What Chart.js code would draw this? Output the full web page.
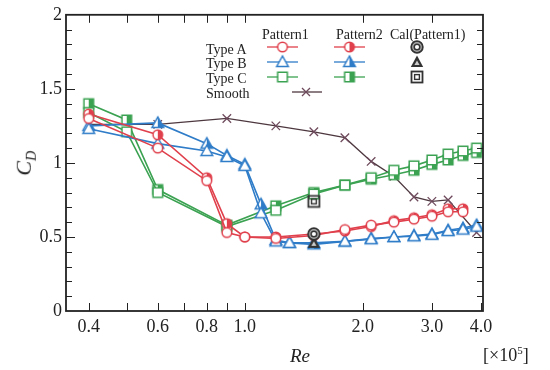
<!DOCTYPE html>
<html>
<head>
<meta charset="utf-8">
<script src="https://cdn.jsdelivr.net/npm/chart.js@4/dist/chart.umd.min.js"></script>
<style>
  body { margin: 0; background: #fff; }
  #wrap { position: relative; width: 550px; height: 370px; font-family: "Liberation Serif", "DejaVu Serif", serif; color: #222; }
  #c { position: absolute; left: 0; top: 0; }
  .t { position: absolute; white-space: nowrap; line-height: 1; font-size: 14px; }
</style>
</head>
<body>
<div id="wrap">
  <canvas id="c" width="550" height="370"></canvas>
  <div class="t" style="left:262px;top:28px">Pattern1</div>
  <div class="t" style="left:336px;top:28px">Pattern2</div>
  <div class="t" style="left:390px;top:28px">Cal(Pattern1)</div>
  <div class="t" style="left:206px;top:43px">Type A</div>
  <div class="t" style="left:206px;top:57px">Type B</div>
  <div class="t" style="left:206px;top:72px">Type C</div>
  <div class="t" style="left:206px;top:87px">Smooth</div>
  <div class="t" style="left:8px;top:150px;width:36px;font-size:22px;font-style:italic;transform:rotate(-90deg);text-align:center">C<sub style="font-size:14px">D</sub></div>
  <div class="t" style="left:290px;top:346px;font-size:19px;font-style:italic">Re</div>
  <div class="t" style="left:483px;top:345px;font-size:18px">[×10<sup style="font-size:11px">5</sup>]</div>
</div>
<script>
// ── data (Re ×10^5, C_D) ─────────────────────────────
const reA  = [0.4, 0.6, 0.8, 0.9, 1.0, 1.2, 1.5, 1.8, 2.1, 2.4, 2.7, 3.0, 3.3, 3.6];
const cdA1 = [1.30, 1.10, 0.88, 0.53, 0.50, 0.49, 0.51, 0.55, 0.58, 0.60, 0.62, 0.64, 0.67, 0.67];
const cdA2 = [1.33, 1.19, 0.90, 0.59, 0.50, 0.50, 0.52, 0.54, 0.57, 0.61, 0.63, 0.65, 0.69, 0.69];

const reB  = [0.4, 0.6, 0.8, 0.9, 1.0, 1.1, 1.2, 1.3, 1.5, 1.8, 2.1, 2.4, 2.7, 3.0, 3.3, 3.6, 3.9];
const cdB1 = [1.23, 1.13, 1.08, 1.04, 0.98, 0.66, 0.47, 0.46, 0.46, 0.47, 0.485, 0.50, 0.505, 0.515, 0.54, 0.55, 0.57];
const cdB2 = [1.25, 1.27, 1.13, 1.05, 0.99, 0.72, 0.48, 0.46, 0.45, 0.47, 0.49, 0.50, 0.51, 0.52, 0.545, 0.56, 0.58];

const reC  = [0.4, 0.5, 0.6, 0.9, 1.2, 1.5, 1.8, 2.1, 2.4, 2.7, 3.0, 3.3, 3.6, 3.9];
const cdC1 = [1.34, 1.21, 0.80, 0.57, 0.68, 0.79, 0.85, 0.90, 0.95, 0.98, 1.02, 1.06, 1.08, 1.10];
const cdC2 = [1.40, 1.29, 0.82, 0.58, 0.71, 0.80, 0.85, 0.89, 0.92, 0.95, 0.99, 1.02, 1.05, 1.07];

const reS  = [0.4, 0.6, 0.9, 1.2, 1.5, 1.8, 2.1, 2.4, 2.7, 3.0, 3.3, 3.9];
const cdS  = [1.26, 1.26, 1.30, 1.25, 1.21, 1.17, 1.01, 0.91, 0.77, 0.74, 0.75, 0.53];

const reCal  = [1.5];
const cdCalA = [0.52];
const cdCalB = [0.46];
const cdCalC = [0.74];

const xTicks  = [0.4, 0.5, 0.6, 0.7, 0.8, 0.9, 1.0, 2.0, 3.0, 4.0];
const xLabels = { 0.4: '0.4', 0.6: '0.6', 0.8: '0.8', 1: '1.0', 2: '2.0', 3: '3.0', 4: '4.0' };
const yTicks  = [0, 0.5, 1, 1.5, 2];
const yLabels = ['0', '0.5', '1', '1.5', '2'];

const RED = '#e0404c', BLUE = '#2f7cc8', GREEN = '#3ba252', SMOOTH = '#4e3840', CAL = '#333';

// ── marker images ────────────────────────────────────
function marker(shape, color, fill) {
    const S = 16, c = document.createElement('canvas');
    c.width = S; c.height = S;
    const g = c.getContext('2d');
    const path = () => {
        g.beginPath();
        if (shape === 'circle') g.arc(8, 8, 4.8, 0, Math.PI * 2);
        else if (shape === 'tri') { g.moveTo(8, 2); g.lineTo(2.2, 12.4); g.lineTo(13.8, 12.4); g.closePath(); }
        else g.rect(3.2, 3.2, 9.6, 9.6);
    };
    path(); g.fillStyle = '#fff'; g.fill();
    if (fill === 'half') {
        g.save(); g.beginPath(); g.rect(8, 0, 8, S); g.clip();
        path(); g.fillStyle = color; g.fill(); g.restore();
    }
    path(); g.strokeStyle = color; g.lineWidth = 1.5; g.stroke();
    return c;
}

function calMarker(shape) {
    const S = 16, c = document.createElement('canvas');
    c.width = S; c.height = S;
    const g = c.getContext('2d');
    g.strokeStyle = CAL;
    if (shape === 'circle') {
        g.beginPath(); g.arc(8, 8, 5.8, 0, Math.PI * 2); g.fillStyle = '#aaa'; g.fill();
        g.lineWidth = 1.8; g.stroke();
        g.beginPath(); g.arc(8, 8, 2.8, 0, Math.PI * 2); g.fillStyle = '#fff'; g.fill();
        g.lineWidth = 1.5; g.stroke();
    } else if (shape === 'tri') {
        g.beginPath(); g.moveTo(8, 1.5); g.lineTo(1.8, 13); g.lineTo(14.2, 13); g.closePath();
        g.fillStyle = CAL; g.fill();
        g.beginPath(); g.moveTo(8, 6.5); g.lineTo(5.4, 11); g.lineTo(10.6, 11); g.closePath();
        g.fillStyle = '#ccc'; g.fill();
    } else {
        g.lineWidth = 1.8; g.strokeRect(2.5, 2.5, 11, 11);
        g.lineWidth = 1.4; g.strokeRect(5.6, 5.6, 4.8, 4.8);
    }
    return c;
}

const M = {
    A1: marker('circle', RED, 'none'),  A2: marker('circle', RED, 'half'),
    B1: marker('tri', BLUE, 'none'),    B2: marker('tri', BLUE, 'half'),
    C1: marker('square', GREEN, 'none'), C2: marker('square', GREEN, 'half'),
    CA: calMarker('circle'), CB: calMarker('tri'), CC: calMarker('square')
};

const pts = (xs, ys) => xs.map((x, i) => ({ x, y: ys[i] }));

function series(xs, ys, color, style, showLine = true) {
    return {
        data: pts(xs, ys), borderColor: color, backgroundColor: color,
        borderWidth: 1.6, showLine, pointStyle: style, pointRadius: 6,
        pointBorderColor: color, pointBorderWidth: 1.3, pointHoverRadius: 6
    };
}

// ── inward ticks, frame, legend samples ──────────────
const framePlugin = {
    id: 'frame',
    afterDraw(chart) {
        const { ctx, chartArea: a, scales: { x, y } } = chart;
        ctx.save();
        ctx.strokeStyle = '#222';
        ctx.lineWidth = 1;
        ctx.beginPath();
        xTicks.forEach(v => {
            const px = Math.round(x.getPixelForValue(v)) + 0.5;
            ctx.moveTo(px, a.bottom); ctx.lineTo(px, a.bottom - 8);
            if (v < 4) { ctx.moveTo(px, a.top); ctx.lineTo(px, a.top + 8); }
        });
        for (let i = 1; i < 20; i++) {
            const v = i / 10, py = Math.round(y.getPixelForValue(v)) + 0.5;
            const len = (i % 5 === 0) ? 9 : 6;
            ctx.moveTo(a.left, py); ctx.lineTo(a.left + len, py);
            ctx.moveTo(a.right, py); ctx.lineTo(a.right - len, py);
        }
        ctx.stroke();
        ctx.lineWidth = 1.8;
        ctx.strokeRect(a.left, a.top, a.right - a.left, a.bottom - a.top);

        // legend samples
        const sample = (x0, x1, yy, color, img) => {
            ctx.strokeStyle = color; ctx.lineWidth = 1.3;
            ctx.beginPath(); ctx.moveTo(x0, yy); ctx.lineTo(x1, yy); ctx.stroke();
            if (img) ctx.drawImage(img, (x0 + x1) / 2 - 8, yy - 8);
        };
        sample(267, 298, 47, RED, M.A1);   sample(334, 365, 47, RED, M.A2);
        sample(267, 298, 62, BLUE, M.B1);  sample(334, 365, 62, BLUE, M.B2);
        sample(267, 298, 77, GREEN, M.C1); sample(334, 365, 77, GREEN, M.C2);
        ctx.drawImage(M.CA, 417 - 8, 47 - 8);
        ctx.drawImage(M.CB, 417 - 8, 62 - 8);
        ctx.drawImage(M.CC, 417 - 8, 77 - 8);
        sample(292, 322, 92, SMOOTH, null);
        ctx.strokeStyle = '#6e4a5c'; ctx.lineWidth = 1.3;
        ctx.beginPath();
        ctx.moveTo(302, 88); ctx.lineTo(310, 96); ctx.moveTo(310, 88); ctx.lineTo(302, 96);
        ctx.stroke();
        ctx.restore();
    }
};

const tickFont = { family: '"Liberation Serif", serif', size: 18 };

new Chart(document.getElementById('c'), {
    type: 'scatter',
    data: {
        datasets: [
            series(reCal, cdCalA, CAL, M.CA, false),
            series(reCal, cdCalB, CAL, M.CB, false),
            series(reCal, cdCalC, CAL, M.CC, false),
            series(reA, cdA1, RED, M.A1),
            series(reA, cdA2, RED, M.A2),
            series(reB, cdB1, BLUE, M.B1),
            series(reB, cdB2, BLUE, M.B2),
            series(reC, cdC1, GREEN, M.C1),
            series(reC, cdC2, GREEN, M.C2),
            Object.assign(series(reS, cdS, SMOOTH, 'crossRot'),
                { pointBorderColor: '#6e4a5c', pointRadius: 6, borderWidth: 1.3 })
        ]
    },
    options: {
        responsive: false,
        animation: false,
        layout: { padding: { top: 14, right: 67, left: 0, bottom: 0 } },
        plugins: { legend: { display: false }, tooltip: { enabled: false } },
        scales: {
            x: {
                type: 'logarithmic', min: 0.35, max: 4.05,
                grid: { display: false, drawTicks: false }, border: { display: false },
                afterBuildTicks: s => { s.ticks = xTicks.map(v => ({ value: v })); },
                afterFit: s => { s.height = 59; },
                ticks: {
                    autoSkip: false, maxRotation: 0, padding: 5, color: '#222', font: tickFont,
                    callback: v => xLabels[v] || ''
                }
            },
            y: {
                min: 0, max: 2,
                grid: { display: false, drawTicks: false }, border: { display: false },
                afterBuildTicks: s => { s.ticks = yTicks.map(v => ({ value: v })); },
                afterFit: s => { s.width = 66; },
                ticks: {
                    padding: 4, color: '#222', font: tickFont,
                    callback: v => yLabels[yTicks.indexOf(v)]
                }
            }
        }
    },
    plugins: [framePlugin]
});
</script>
</body>
</html>
